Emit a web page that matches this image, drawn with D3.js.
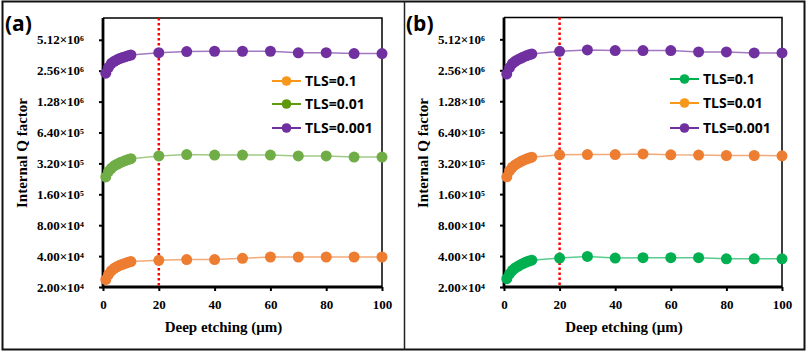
<!DOCTYPE html>
<html>
<head>
<meta charset="utf-8">
<script src="https://cdn.jsdelivr.net/npm/d3@7"></script>
<style>
  body { margin: 0; background: #fff; }
  svg { display: block; }
</style>
</head>
<body>
<svg id="chart" width="810" height="354"></svg>
<script>
// x positions (um)
const depths = [1, 2, 3, 4, 5, 6, 7, 8, 9, 10, 20, 30, 40, 50, 60, 70, 80, 90, 100]

// panel (a)
const aTls01 = [2.36e4, 2.66e4, 2.88e4, 3.04e4, 3.15e4, 3.25e4, 3.33e4, 3.40e4, 3.48e4, 3.54e4, 3.64e4, 3.70e4, 3.70e4, 3.81e4, 3.92e4, 3.92e4, 3.92e4, 3.92e4, 3.92e4]
const aTls001 = [2.36e5, 2.68e5, 2.87e5, 3.03e5, 3.14e5, 3.24e5, 3.33e5, 3.41e5, 3.49e5, 3.56e5, 3.78e5, 3.90e5, 3.86e5, 3.86e5, 3.86e5, 3.78e5, 3.78e5, 3.69e5, 3.69e5]
const aTls0001 = [2.42e6, 2.76e6, 3.02e6, 3.16e6, 3.27e6, 3.36e6, 3.44e6, 3.51e6, 3.58e6, 3.64e6, 3.84e6, 3.93e6, 3.96e6, 3.96e6, 3.96e6, 3.82e6, 3.84e6, 3.76e6, 3.76e6]

// panel (b)
const bTls01 = [2.41e4, 2.68e4, 2.90e4, 3.06e4, 3.18e4, 3.30e4, 3.40e4, 3.50e4, 3.58e4, 3.65e4, 3.82e4, 3.97e4, 3.82e4, 3.86e4, 3.86e4, 3.86e4, 3.76e4, 3.76e4, 3.76e4]
const bTls001 = [2.36e5, 2.70e5, 2.92e5, 3.08e5, 3.20e5, 3.32e5, 3.42e5, 3.51e5, 3.59e5, 3.66e5, 3.86e5, 3.88e5, 3.88e5, 3.94e5, 3.86e5, 3.84e5, 3.80e5, 3.80e5, 3.77e5]
const bTls0001 = [2.36e6, 2.72e6, 2.98e6, 3.13e6, 3.25e6, 3.35e6, 3.45e6, 3.54e6, 3.62e6, 3.69e6, 3.92e6, 4.04e6, 3.98e6, 3.98e6, 3.98e6, 3.86e6, 3.86e6, 3.78e6, 3.78e6]

const seriesNames = ["TLS=0.1", "TLS=0.01", "TLS=0.001"]
const yTicks = [2e4, 4e4, 8e4, 1.6e5, 3.2e5, 6.4e5, 1.28e6, 2.56e6, 5.12e6]
const xTicks = [0, 20, 40, 60, 80, 100]
const yMin = 2e4, yMax = 8.35e6
const markerLine = 20

const serif = "'Liberation Serif', 'Times New Roman', serif"
const sans = "'Open Sans', 'Liberation Sans', sans-serif"

const svg = d3.select("#chart")

// outer frame + divider
svg.append("rect")
    .attr("x", 2.5).attr("y", 1.5)
    .attr("width", 802).attr("height", 348)
    .attr("fill", "none").attr("stroke", "#111").attr("stroke-width", 2)
svg.append("line")
    .attr("x1", 404.5).attr("x2", 404.5).attr("y1", 1.5).attr("y2", 349.5)
    .attr("stroke", "#222").attr("stroke-width", 1.5)

const supDigits = {"4": "\u2074", "5": "\u2075", "6": "\u2076"}

function drawPanel(o) {
    const x = d3.scaleLinear().domain([0, 100]).range([o.left, o.right])
    const y = d3.scaleLog().base(2).domain([yMin, yMax]).range([o.bottom, o.top])

    const g = svg.append("g")

    // panel letter
    g.append("text")
        .attr("x", o.left - 98).attr("y", 31)
        .attr("font-family", sans).attr("font-weight", 700).attr("font-size", 21)
        .text(o.label)

    // top & right border of plot area
    g.append("path")
        .attr("d", "M" + o.left + "," + o.top + "H" + o.right + "V" + o.bottom)
        .attr("fill", "none").attr("stroke", "#000").attr("stroke-width", 1.5)

    // y axis
    const yAxis = d3.axisLeft(y).tickValues(yTicks).tickSize(4).tickPadding(15).tickFormat("")
    const gY = g.append("g")
        .attr("transform", "translate(" + o.left + ",0)")
        .call(yAxis)
    gY.select(".domain").remove()
    gY.selectAll(".tick line").attr("stroke", "#000").attr("stroke-width", 2)
    gY.selectAll(".tick text").each(function (d) {
        const exp = Math.floor(Math.log10(d))
        const mant = (d / Math.pow(10, exp)).toFixed(2)
        const t = d3.select(this).text(null)
            .attr("font-family", serif).attr("font-weight", 700).attr("font-size", 13)
            .attr("fill", "#000")
        t.append("tspan").text(mant + "\u00d710")
        t.append("tspan").text(supDigits[exp])
    })

    // x axis
    const xAxis = d3.axisBottom(x).tickValues(xTicks).tickSize(4).tickPadding(9)
    const gX = g.append("g")
        .attr("transform", "translate(0," + o.bottom + ")")
        .call(xAxis)
    gX.select(".domain").remove()
    gX.selectAll(".tick line").attr("stroke", "#000").attr("stroke-width", 2)
    gX.selectAll(".tick text")
        .attr("font-family", serif).attr("font-weight", 700).attr("font-size", 13)
        .attr("fill", "#000")

    // thick left & bottom axis lines
    g.append("path")
        .attr("d", "M" + o.left + "," + o.top + "V" + o.bottom + "H" + o.right)
        .attr("fill", "none").attr("stroke", "#000").attr("stroke-width", 2.8)

    // axis titles (x title sits a bit left of the plot centre)
    g.append("text")
        .attr("x", (o.left + o.right) / 2 - 19).attr("y", 332)
        .attr("text-anchor", "middle")
        .attr("font-family", serif).attr("font-weight", 700).attr("font-size", 15)
        .text("Deep etching (\u03bcm)")
    g.append("text")
        .attr("transform", "translate(" + (o.left - 76) + "," + 153 + ") rotate(-90)")
        .attr("text-anchor", "middle")
        .attr("font-family", serif).attr("font-weight", 700).attr("font-size", 15)
        .text("Internal Q factor")

    // red dotted marker line at 20 um
    g.append("line")
        .attr("x1", x(markerLine)).attr("x2", x(markerLine))
        .attr("y1", o.top).attr("y2", o.bottom)
        .attr("stroke", "#ff0000").attr("stroke-width", 2.5)
        .attr("stroke-dasharray", "2.5,2.5")

    const line = d3.line()
        .x(function (d, i) { return x(depths[i]) })
        .y(function (d) { return y(d) })

    o.series.forEach(function (s) {
        g.append("path")
            .datum(s.values)
            .attr("d", line)
            .attr("fill", "none")
            .attr("stroke", s.color).attr("stroke-opacity", 0.65)
            .attr("stroke-width", 1.5)
        g.append("g").selectAll("circle")
            .data(s.values)
            .join("circle")
            .attr("cx", function (d, i) { return x(depths[i]) })
            .attr("cy", function (d) { return y(d) })
            .attr("r", 5.5)
            .attr("fill", s.color)
    })

    // legend
    const lg = g.append("g")
    o.series.forEach(function (s, i) {
        const ly = o.legendY[i]
        lg.append("line")
            .attr("x1", o.legendX).attr("x2", o.legendX + 29)
            .attr("y1", ly).attr("y2", ly)
            .attr("stroke", s.legendColor).attr("stroke-width", 2)
        lg.append("circle")
            .attr("cx", o.legendX + 14.5).attr("cy", ly).attr("r", 4.8)
            .attr("fill", s.legendColor)
        lg.append("text")
            .attr("x", o.legendX + 33).attr("y", ly)
            .attr("dy", "0.36em")
            .attr("font-family", sans).attr("font-weight", 700).attr("font-size", 14)
            .text(seriesNames[i])
    })
}

drawPanel({
    label: "(a)",
    left: 103, right: 382, top: 18, bottom: 287,
    legendX: 272, legendY: [81, 104, 128],
    series: [
        {values: aTls01, color: "#ed7d31", legendColor: "#f7981d"},
        {values: aTls001, color: "#70ad47", legendColor: "#5e9a0c"},
        {values: aTls0001, color: "#7030a0", legendColor: "#7030a0"}
    ]
})

drawPanel({
    label: "(b)",
    left: 504, right: 782, top: 17.5, bottom: 287,
    legendX: 670, legendY: [79, 103, 128],
    series: [
        {values: bTls01, color: "#00b050", legendColor: "#00b050"},
        {values: bTls001, color: "#ed7d31", legendColor: "#f7981d"},
        {values: bTls0001, color: "#7030a0", legendColor: "#7030a0"}
    ]
})
</script>
</body>
</html>
